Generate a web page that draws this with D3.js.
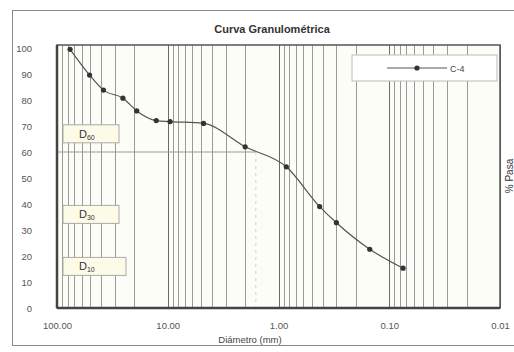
<!DOCTYPE html>
<html><head><meta charset="utf-8">
<script src="https://cdn.jsdelivr.net/npm/d3@7"></script>
<style>body{margin:0;background:#fff}svg{display:block;font-family:"Liberation Sans",Arial,sans-serif}</style>
</head><body><svg id="c" width="514" height="352"></svg>
<script>
const title = "Curva Granulométrica";
const xTitle = "Diámetro (mm)";
const yTitle = "% Pasa";
const seriesName = "C-4";
const diameters = [76.2, 50.8, 38.1, 25.4, 19.05, 12.7, 9.525, 4.75, 2.0, 0.85, 0.425, 0.3, 0.15, 0.075];
const passing = [99.5, 89.6, 83.8, 80.7, 75.8, 72.1, 71.7, 71.0, 62.0, 54.3, 39.0, 32.8, 22.6, 15.3];
const xTicks = [100, 10, 1, 0.1, 0.01];
const xTickLabels = ["100.00", "10.00", "1.00", "0.10", "0.01"];
const yTicks = [0,10,20,30,40,50,60,70,80,90,100];
const dLabels = [{t:"D", s:"60", v:67}, {t:"D", s:"30", v:36}, {t:"D", s:"10", v:16}];
const dLineValue = 60;

const svg = d3.select("#c");
const L = 57, R = 500, T = 45, B = 308;
const x = d3.scaleLog().domain([100, 0.01]).range([L, R]);
const y = d3.scaleLinear().domain([0, 100]).range([B, 48]);

svg.append("rect").attr("x",12.5).attr("y",10.5).attr("width",520).attr("height",335)
  .attr("fill","#fff").attr("stroke","#8a8a8a");
svg.append("rect").attr("x",L).attr("y",T).attr("width",R-L).attr("height",B-T).attr("fill","#fdfdf8");

const minor = [];
for (let e = -2; e < 2; e++) for (let m = 1; m < 10; m++) minor.push(m*Math.pow(10,e));
svg.append("g").selectAll("line").data(minor).join("line")
  .attr("x1",d=>Math.round(x(d))+0.5).attr("x2",d=>Math.round(x(d))+0.5)
  .attr("y1",T).attr("y2",B)
  .attr("stroke",d=>xTicks.includes(d)?"#6a6a6a":"#9a9a9a").attr("stroke-width",1);

const xAt60 = (function(){
  for (let i=0;i<passing.length-1;i++){
    if (passing[i]>=dLineValue && passing[i+1]<=dLineValue){
      const a=Math.log10(diameters[i]), b=Math.log10(diameters[i+1]);
      const t=(passing[i]-dLineValue)/(passing[i]-passing[i+1]);
      return Math.pow(10, a+(b-a)*t);
    }
  }
})();
svg.append("line").attr("x1",L).attr("x2",x(xAt60)).attr("y1",y(dLineValue)).attr("y2",y(dLineValue))
  .attr("stroke","#999").attr("stroke-width",1.2);
svg.append("line").attr("x1",x(xAt60)).attr("x2",x(xAt60)).attr("y1",y(dLineValue)).attr("y2",B)
  .attr("stroke","#c8d8b0").attr("stroke-width",1).attr("stroke-dasharray","3,4");

svg.append("rect").attr("x",L).attr("y",T).attr("width",R-L).attr("height",B-T)
  .attr("fill","none").attr("stroke","#555").attr("stroke-width",1.5);
svg.append("line").attr("x1",L).attr("x2",R).attr("y1",B).attr("y2",B).attr("stroke","#444").attr("stroke-width",2.5);
svg.append("line").attr("x1",L).attr("x2",L).attr("y1",T).attr("y2",B).attr("stroke","#444").attr("stroke-width",2.5);

const yAxis = d3.axisLeft(y).tickValues(yTicks).tickSize(0).tickPadding(25);
svg.append("g").attr("transform",`translate(${L},0)`).call(yAxis)
  .call(g=>g.select(".domain").remove())
  .selectAll("text").attr("font-size",9.5).attr("fill","#555");
const xAxis = d3.axisBottom(x).tickValues(xTicks).tickFormat((d,i)=>xTickLabels[i]).tickSize(0).tickPadding(14);
svg.append("g").attr("transform",`translate(0,${B})`).call(xAxis)
  .call(g=>g.select(".domain").remove())
  .selectAll("text").attr("font-size",9.5).attr("fill","#555");

svg.append("text").attr("x",272).attr("y",33).attr("text-anchor","middle")
  .attr("font-size",11).attr("font-weight","bold").attr("fill","#333").text(title);
svg.append("text").attr("x",250).attr("y",343).attr("text-anchor","middle")
  .attr("font-size",9.5).attr("fill","#444").text(xTitle);
svg.append("text").attr("transform","translate(513,176) rotate(-90)").attr("text-anchor","middle")
  .attr("font-size",10).attr("fill","#333").text(yTitle);

const dg = svg.append("g").selectAll("g").data(dLabels).join("g")
  .attr("transform",d=>`translate(63,${y(d.v)-9})`);
dg.append("rect").attr("width",(d,i)=>i===2?63:56).attr("height",18)
  .attr("fill","#fbfbe8").attr("stroke","#aaa");
dg.append("text").attr("x",16).attr("y",13).attr("font-size",11).attr("fill","#333")
  .text(d=>d.t).append("tspan").attr("font-size",7).attr("dy",2).text(d=>d.s);

const pts = diameters.map((d,i)=>[d,passing[i]]);
svg.append("path").datum(pts)
  .attr("d", d3.line().x(d=>x(d[0])).y(d=>y(d[1])).curve(d3.curveMonotoneX))
  .attr("fill","none").attr("stroke","#555").attr("stroke-width",1.2);
svg.append("g").selectAll("circle").data(pts).join("circle")
  .attr("cx",d=>x(d[0])).attr("cy",d=>y(d[1])).attr("r",2.6).attr("fill","#333");

const lg = svg.append("g").attr("transform","translate(352,55)");
lg.append("rect").attr("width",145).attr("height",26).attr("fill","#fff").attr("stroke","#bbb");
lg.append("line").attr("x1",35).attr("x2",95).attr("y1",13).attr("y2",13).attr("stroke","#555").attr("stroke-width",1.2);
lg.append("circle").attr("cx",65).attr("cy",13).attr("r",2.6).attr("fill","#333");
lg.append("text").attr("x",98).attr("y",17).attr("font-size",9).attr("fill","#444").text(seriesName);
</script></body></html>
